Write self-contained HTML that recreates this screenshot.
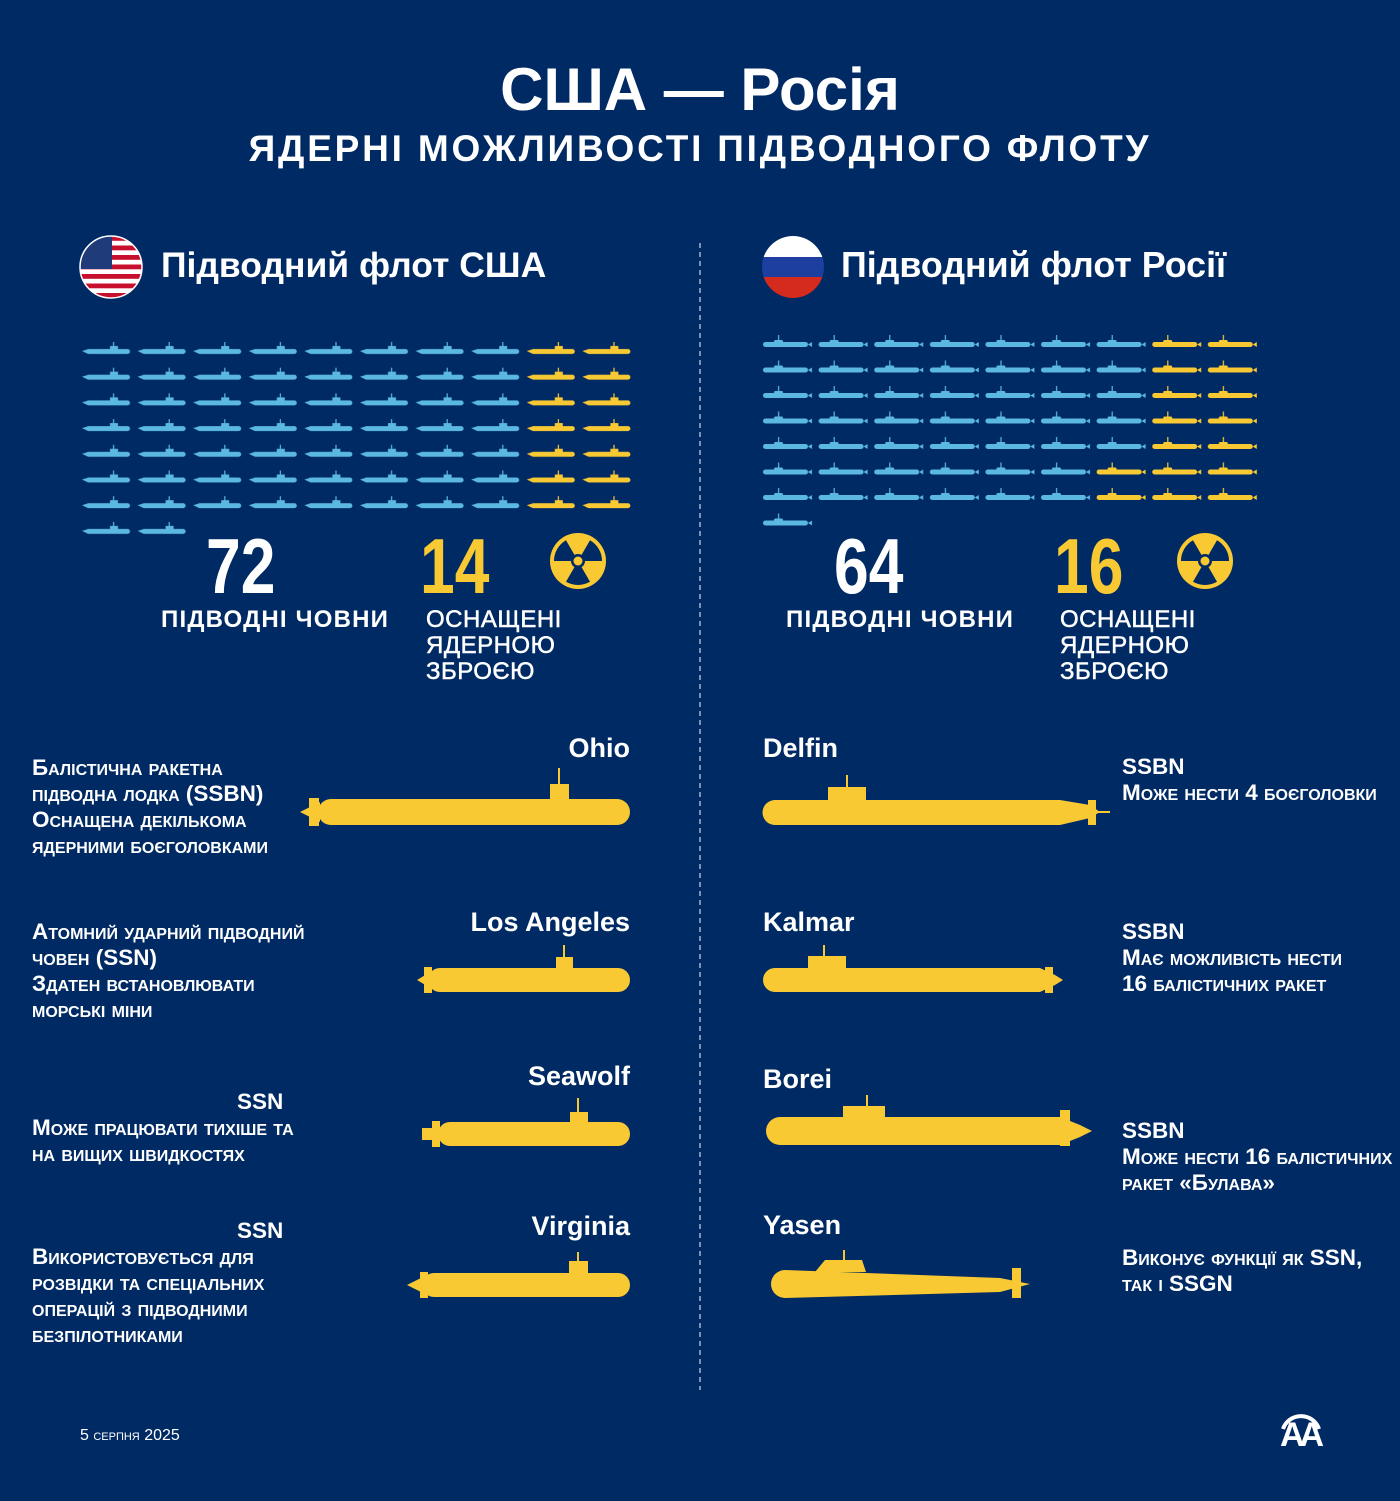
<!DOCTYPE html>
<html><head><meta charset="utf-8"><style>
body{margin:0;width:1400px;height:1501px;background:#002a64;overflow:hidden;font-family:"Liberation Sans",sans-serif;color:#fff;position:relative}
.t{position:absolute;white-space:nowrap}
.b{font-weight:bold}
.d{position:absolute;font-size:22.5px;font-variant:small-caps;line-height:26px;font-weight:bold;white-space:nowrap}
.n{position:absolute;font-family:"Liberation Sans Narrow","Liberation Sans",sans-serif;font-weight:bold;font-size:78px;line-height:60px;transform:scaleX(.8);transform-origin:left top}
.l{position:absolute;font-size:24px;font-weight:bold;line-height:26px;letter-spacing:1.2px}
.nm{position:absolute;font-size:27px;font-weight:bold}
</style></head><body>
<svg width="1400" height="1501" style="position:absolute;left:0;top:0">
<defs>
<pattern id="ub" x="82" y="340" width="55.6" height="25.7" patternUnits="userSpaceOnUse">
<rect x="4" y="9" width="44" height="5" rx="2.5" fill="#5bb8e0"/><polygon points="0,11 5,9.5 5,13.5" fill="#5bb8e0"/><rect x="28" y="6" width="8" height="4" fill="#5bb8e0"/><rect x="31" y="2" width="1.2" height="5" fill="#5bb8e0"/></pattern>
<pattern id="uy" x="82" y="340" width="55.6" height="25.7" patternUnits="userSpaceOnUse">
<rect x="4" y="9" width="44" height="5" rx="2.5" fill="#f8c933"/><polygon points="0,11 5,9.5 5,13.5" fill="#f8c933"/><rect x="28" y="6" width="8" height="4" fill="#f8c933"/><rect x="31" y="2" width="1.2" height="5" fill="#f8c933"/></pattern>
<pattern id="rb" x="763" y="334" width="55.6" height="25.5" patternUnits="userSpaceOnUse">
<rect x="0" y="8" width="45" height="5" rx="2.5" fill="#5bb8e0"/><polygon points="49,8 45,10.5 49,13" fill="#5bb8e0"/><rect x="11" y="6" width="9" height="3" rx="1.5" fill="#5bb8e0"/><rect x="15" y="1" width="1.2" height="6" fill="#5bb8e0"/></pattern>
<pattern id="ry" x="763" y="334" width="55.6" height="25.5" patternUnits="userSpaceOnUse">
<rect x="0" y="8" width="45" height="5" rx="2.5" fill="#f8c933"/><polygon points="49,8 45,10.5 49,13" fill="#f8c933"/><rect x="11" y="6" width="9" height="3" rx="1.5" fill="#f8c933"/><rect x="15" y="1" width="1.2" height="6" fill="#f8c933"/></pattern>
<clipPath id="c1"><circle cx="111" cy="267" r="31"/></clipPath>
<clipPath id="c2"><circle cx="793" cy="267" r="31"/></clipPath>
</defs>
<rect x="82" y="340" width="444.8" height="179.9" fill="url(#ub)"/>
<rect x="526.8" y="340" width="111.2" height="179.9" fill="url(#uy)"/>
<rect x="82" y="519.9" width="111.2" height="25.7" fill="url(#ub)"/>
<rect x="763" y="334" width="389.2" height="127.5" fill="url(#rb)"/>
<rect x="1152.2" y="334" width="111.2" height="127.5" fill="url(#ry)"/>
<rect x="763" y="461.5" width="333.6" height="51" fill="url(#rb)"/>
<rect x="1096.6" y="461.5" width="166.8" height="51" fill="url(#ry)"/>
<rect x="763" y="512.5" width="55.6" height="25.5" fill="url(#rb)"/>
<g clip-path="url(#c1)"><rect x="80" y="236" width="62" height="62" fill="#fff"/>
<g fill="#c8102e"><rect x="80" y="236" width="62" height="4.8"/><rect x="80" y="245.5" width="62" height="4.8"/><rect x="80" y="255" width="62" height="4.8"/><rect x="80" y="264.5" width="62" height="4.8"/><rect x="80" y="274" width="62" height="4.8"/><rect x="80" y="283.5" width="62" height="4.8"/><rect x="80" y="293" width="62" height="5"/></g>
<rect x="80" y="236" width="32" height="33" fill="#1f3b7a"/></g>
<circle cx="111" cy="267" r="31" fill="none" stroke="#fff" stroke-width="1.5"/>
<g clip-path="url(#c2)"><rect x="762" y="236" width="62" height="21" fill="#fff"/><rect x="762" y="257" width="62" height="20" fill="#1d3fa0"/><rect x="762" y="277" width="62" height="21" fill="#d52b1e"/></g>
<g transform="translate(578,561)"><circle r="28" fill="#f8c933"/><g fill="#002a64"><path d="M0,0 L-12,-20.8 A24,24 0 0 1 12,-20.8Z" transform="rotate(180)"/><path d="M0,0 L-12,-20.8 A24,24 0 0 1 12,-20.8Z" transform="rotate(60)"/><path d="M0,0 L-12,-20.8 A24,24 0 0 1 12,-20.8Z" transform="rotate(-60)"/><circle r="7"/></g><circle r="4.5" fill="#f8c933"/></g>
<g transform="translate(1205,561)"><circle r="28" fill="#f8c933"/><g fill="#002a64"><path d="M0,0 L-12,-20.8 A24,24 0 0 1 12,-20.8Z" transform="rotate(180)"/><path d="M0,0 L-12,-20.8 A24,24 0 0 1 12,-20.8Z" transform="rotate(60)"/><path d="M0,0 L-12,-20.8 A24,24 0 0 1 12,-20.8Z" transform="rotate(-60)"/><circle r="7"/></g><circle r="4.5" fill="#f8c933"/></g>
<line x1="700" y1="243" x2="700" y2="1390" stroke="#9fb3d6" stroke-width="1.5" stroke-dasharray="5,4"/>
<g fill="#f8c933">
<rect x="318" y="799" width="312" height="26" rx="13"/><polygon points="300,812 320,802 320,822"/><rect x="309" y="798" width="10" height="28"/><rect x="550" y="784" width="19" height="17"/><rect x="558" y="768" width="2" height="18"/>
<rect x="428" y="968" width="202" height="24" rx="12"/><polygon points="417,980 432,971 432,989"/><rect x="424" y="967" width="8" height="26"/><rect x="556" y="957" width="17" height="13"/><rect x="563" y="945" width="2" height="14"/>
<rect x="438" y="1122" width="192" height="24" rx="12"/><rect x="422" y="1128" width="20" height="12"/><rect x="432" y="1121" width="8" height="26"/><rect x="570" y="1112" width="18" height="12"/><rect x="577" y="1098" width="2" height="16"/>
<rect x="422" y="1273" width="208" height="24" rx="12"/><polygon points="407,1285 425,1276 425,1294"/><rect x="420" y="1272" width="8" height="26"/><rect x="569" y="1261" width="19" height="14"/><rect x="577" y="1252" width="2" height="11"/>
<path d="M775,800 L1060,800 L1090,805 L1100,812 L1090,818 L1060,825 L775,825 A12,12 0 0 1 775,800Z"/><rect x="1088" y="800" width="8" height="25"/><rect x="828" y="787" width="38" height="15"/><rect x="846" y="775" width="2" height="14"/><rect x="1096" y="811" width="14" height="2"/>
<path d="M775,968 L1040,968 L1055,975 L1063,980 L1055,985 L1040,992 L775,992 A12,12 0 0 1 775,968Z"/><rect x="1045" y="967" width="8" height="26"/><rect x="808" y="956" width="38" height="14"/><rect x="823" y="945" width="2" height="12"/>
<path d="M780,1117 L1060,1117 L1080,1125 L1092,1131 L1080,1137 L1060,1145 L780,1145 A14,14 0 0 1 780,1117Z"/><rect x="1060" y="1110" width="10" height="36"/><rect x="843" y="1106" width="42" height="13"/><rect x="866" y="1095" width="2" height="12"/>
<path d="M785,1270 L1000,1278 L1030,1284 L1000,1292 L785,1298 A14,14 0 0 1 785,1270Z"/><rect x="1012" y="1268" width="9" height="30"/><path d="M815,1272 L825,1260 L862,1260 L866,1272Z"/><rect x="843" y="1250" width="2" height="11"/>
</g>
<g transform="translate(1301,1425)" fill="none" stroke="#fff" stroke-width="4"><path d="M-18,4 A19,19 0 0 1 18,4"/></g>
<text x="1280" y="1446" fill="#fff" font-family="Liberation Sans" font-weight="bold" font-size="34" letter-spacing="-5">AA</text>
</svg>
<div class="t b" style="left:0;width:1400px;text-align:center;top:55px;font-size:60px">США — Росія</div>
<div class="t b" style="left:0;width:1400px;text-align:center;top:128px;font-size:37px;letter-spacing:2.8px">ЯДЕРНІ МОЖЛИВОСТІ ПІДВОДНОГО ФЛОТУ</div>
<div class="t b" style="left:161px;top:245px;font-size:35.5px">Підводний флот США</div>
<div class="t b" style="left:841px;top:245px;font-size:35.8px">Підводний флот Росії</div>
<div class="n" style="left:206px;top:536px">72</div>
<div class="n" style="left:420px;top:536px;color:#f8c933">14</div>
<div class="n" style="left:834px;top:536px">64</div>
<div class="n" style="left:1054px;top:536px;color:#f8c933">16</div>
<div class="l" style="left:161px;top:607px">ПІДВОДНІ ЧОВНИ</div>
<div class="l" style="left:426px;top:607px;font-weight:normal;letter-spacing:.5px;-webkit-text-stroke:.5px #fff">ОСНАЩЕНІ<br>ЯДЕРНОЮ<br>ЗБРОЄЮ</div>
<div class="l" style="left:786px;top:607px">ПІДВОДНІ ЧОВНИ</div>
<div class="l" style="left:1060px;top:607px;font-weight:normal;letter-spacing:.5px;-webkit-text-stroke:.5px #fff">ОСНАЩЕНІ<br>ЯДЕРНОЮ<br>ЗБРОЄЮ</div>
<div class="nm" style="right:770px;top:733px">Ohio</div>
<div class="nm" style="right:770px;top:907px">Los Angeles</div>
<div class="nm" style="right:770px;top:1061px">Seawolf</div>
<div class="nm" style="right:770px;top:1211px">Virginia</div>
<div class="nm" style="left:763px;top:733px">Delfin</div>
<div class="nm" style="left:763px;top:907px">Kalmar</div>
<div class="nm" style="left:763px;top:1064px">Borei</div>
<div class="nm" style="left:763px;top:1210px">Yasen</div>
<div class="d" style="left:32px;top:755px">Балістична ракетна<br>підводна лодка (SSBN)<br>Оснащена декількома<br>ядерними боєголовками</div>
<div class="d" style="left:32px;top:919px">Атомний ударний підводний<br>човен (SSN)<br>Здатен встановлювати<br>морські міни</div>
<div class="d" style="left:32px;top:1089px"><span style="padding-left:205px">SSN</span><br>Може працювати тихіше та<br>на вищих швидкостях</div>
<div class="d" style="left:32px;top:1218px"><span style="padding-left:205px">SSN</span><br>Використовується для<br>розвідки та спеціальних<br>операцій з підводними<br>безпілотниками</div>
<div class="d" style="left:1122px;top:754px">SSBN<br>Може нести 4 боєголовки</div>
<div class="d" style="left:1122px;top:919px">SSBN<br>Має можливість нести<br>16 балістичних ракет</div>
<div class="d" style="left:1122px;top:1118px">SSBN<br>Може нести 16 балістичних<br>ракет «Булава»</div>
<div class="d" style="left:1122px;top:1245px">Виконує функції як SSN,<br>так і SSGN</div>
<div class="t" style="left:80px;top:1427px;font-size:16px;font-variant:small-caps">5 серпня 2025</div>
</body></html>
